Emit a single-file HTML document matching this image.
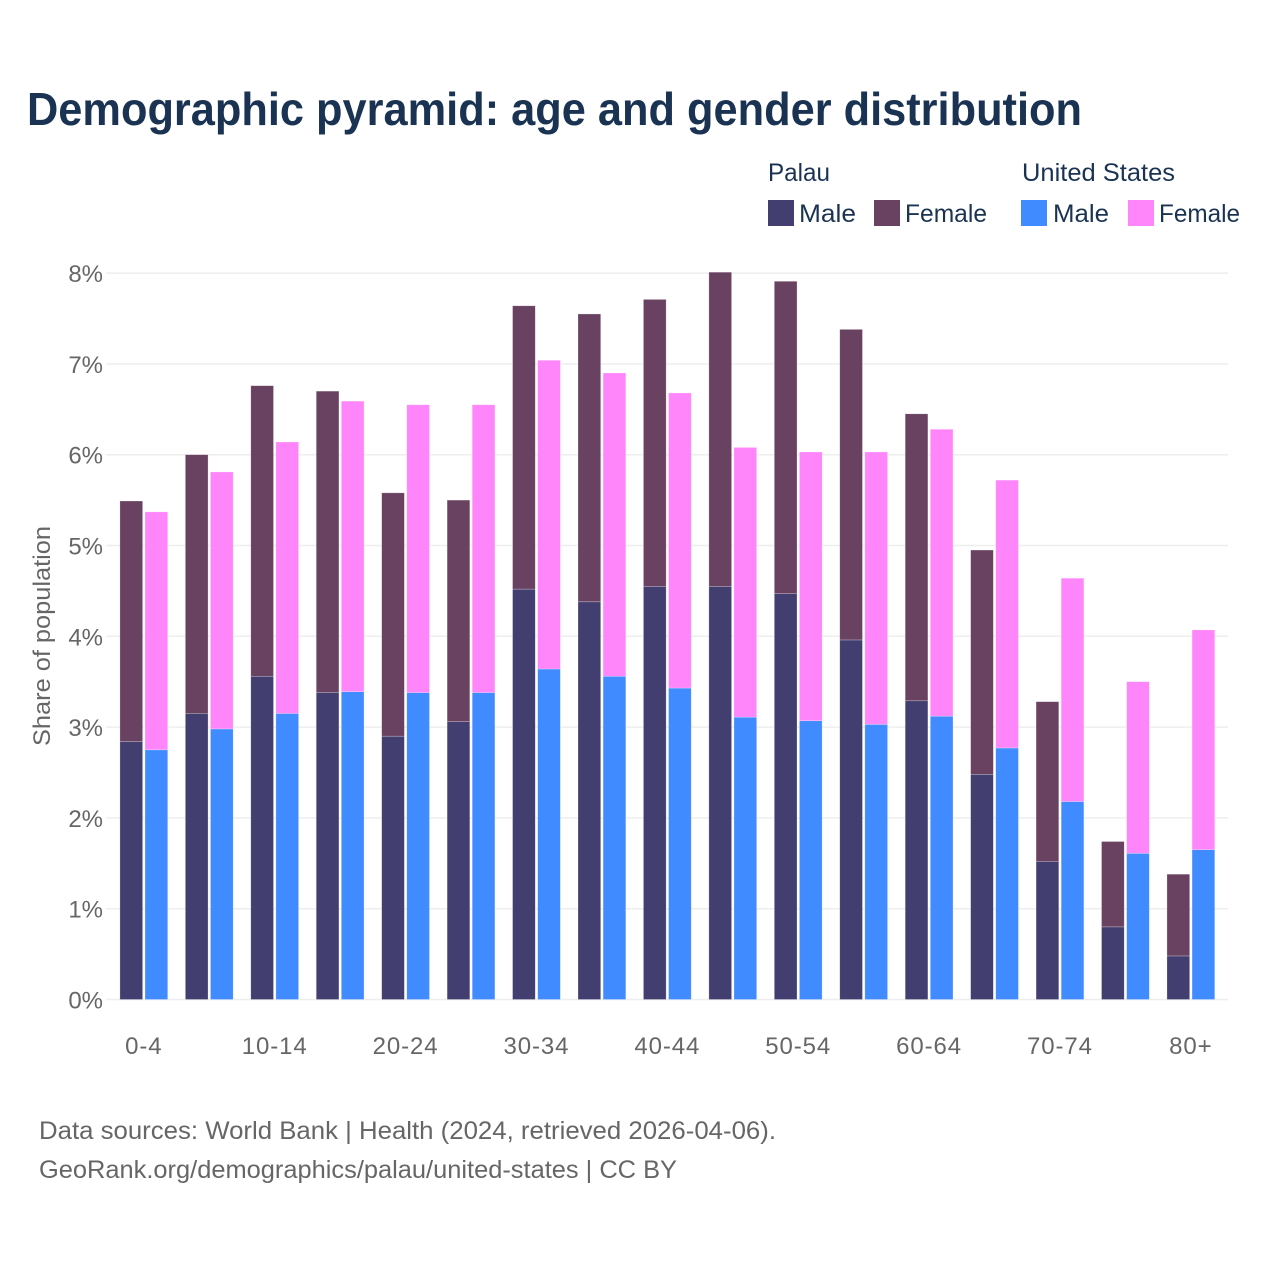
<!DOCTYPE html>
<html lang="en">
<head>
<meta charset="utf-8">
<title>Demographic pyramid: age and gender distribution</title>
<style>
html,body{margin:0;padding:0;background:#fff;}
svg{display:block;font-family:"Liberation Sans",sans-serif;}
</style>
</head>
<body>
<svg id="chart" width="1280" height="1280" viewBox="0 0 1280 1280" xmlns="http://www.w3.org/2000/svg">
  <rect x="0" y="0" width="1280" height="1280" fill="#ffffff"/>
  <text x="27" y="125" font-size="46" font-weight="700" fill="#1a3353" textLength="1055" lengthAdjust="spacingAndGlyphs">Demographic pyramid: age and gender distribution</text>

  <g font-size="25" fill="#1a3353">
    <text x="768" y="181" textLength="62" lengthAdjust="spacingAndGlyphs">Palau</text>
    <text x="1022" y="181" textLength="153" lengthAdjust="spacingAndGlyphs">United States</text>
    <g>
      <rect x="768" y="200" width="26" height="26" fill="#423f70"/>
      <text x="799" y="222" textLength="57" lengthAdjust="spacingAndGlyphs">Male</text>
    </g>
    <g>
      <rect x="874" y="200" width="26" height="26" fill="#694262"/>
      <text x="905" y="222" textLength="82" lengthAdjust="spacingAndGlyphs">Female</text>
    </g>
    <g>
      <rect x="1021" y="200" width="26" height="26" fill="#408bff"/>
      <text x="1053" y="222" textLength="56" lengthAdjust="spacingAndGlyphs">Male</text>
    </g>
    <g>
      <rect x="1128" y="200" width="26" height="26" fill="#ff85fb"/>
      <text x="1159" y="222" textLength="81" lengthAdjust="spacingAndGlyphs">Female</text>
    </g>
  </g>

  <g id="grid"></g>
  <g id="bars"></g>
  <g id="yticks"></g>
  <g id="xticks"></g>

  <text transform="translate(50,636) rotate(-90)" text-anchor="middle" font-size="24" fill="#666666" textLength="220" lengthAdjust="spacingAndGlyphs">Share of population</text>

  <text x="39" y="1139" font-size="25" fill="#666666" textLength="737" lengthAdjust="spacingAndGlyphs">Data sources: World Bank | Health (2024, retrieved 2026-04-06).</text>
  <text x="39" y="1178" font-size="25" fill="#666666" textLength="638" lengthAdjust="spacingAndGlyphs">GeoRank.org/demographics/palau/united-states | CC BY</text>
</svg>
<script>
const categories = ["0-4","5-9","10-14","15-19","20-24","25-29","30-34","35-39","40-44","45-49","50-54","55-59","60-64","65-69","70-74","75-79","80+"];
const palauMale = [2.84,3.15,3.56,3.38,2.90,3.06,4.52,4.38,4.55,4.55,4.47,3.96,3.29,2.48,1.52,0.80,0.48];
const palauFemale = [2.65,2.85,3.20,3.32,2.68,2.44,3.12,3.17,3.16,3.46,3.44,3.42,3.16,2.47,1.76,0.94,0.90];
const usMale = [2.75,2.98,3.15,3.39,3.38,3.38,3.64,3.56,3.43,3.11,3.07,3.03,3.12,2.77,2.18,1.61,1.65];
const usFemale = [2.62,2.83,2.99,3.20,3.17,3.17,3.40,3.34,3.25,2.97,2.96,3.00,3.16,2.95,2.46,1.89,2.42];
const yTickValues = [0,1,2,3,4,5,6,7,8];

const NS = "http://www.w3.org/2000/svg";
const plotLeft = 111, bandStep = 65.44, barWidth = 22.7, barGap = 2.4;
const gridLeft = 106, gridRight = 1228;
const yZero = 999.5, pxPerUnit = 90.8;

function yScale(v) { return yZero - v * pxPerUnit; }
function xCenter(i) { return plotLeft + bandStep * (i + 0.5) + 0.1; }

function make(tag, attrs, parent) {
  const el = document.createElementNS(NS, tag);
  for (const k in attrs) el.setAttribute(k, attrs[k]);
  parent.appendChild(el);
  return el;
}

const gridG = document.getElementById("grid");
const yG = document.getElementById("yticks");
yTickValues.forEach(function (t) {
  const line = make("line", { x1: gridLeft, x2: gridRight, y1: yScale(t), y2: yScale(t), stroke: "#eeeeee", "stroke-width": 1.5 }, gridG);
  
  
  const label = make("text", { x: 103, y: yScale(t) + 9, "text-anchor": "end", "font-size": 24, fill: "#666666" }, yG);
  label.textContent = t + "%";
  
  
});

const xG = document.getElementById("xticks");
categories.forEach(function (c, i) {
  if (i % 2 !== 0) return;
  const label = make("text", { x: xCenter(i), y: 1054, "text-anchor": "middle", "font-size": 24, "letter-spacing": 0.9, fill: "#666666" }, xG);
  label.textContent = c;
  
  
});

const barsG = document.getElementById("bars");
function drawStack(i, x, lower, upper, lowerColor, upperColor, country) {
  const lowerTop = yScale(lower);
  const upperTop = yScale(lower + upper);
  const a = make("rect", { x: x, y: lowerTop, width: barWidth, height: yZero - lowerTop, fill: lowerColor, stroke: "#ffffff", "stroke-opacity": 0.4, "stroke-width": 0.6 }, barsG);
  
  
  a.setAttribute('data-country', country);
  const b = make("rect", { x: x, y: upperTop, width: barWidth, height: lowerTop - upperTop, fill: upperColor, stroke: "#ffffff", "stroke-opacity": 0.4, "stroke-width": 0.6 }, barsG);
  
  
  b.setAttribute('data-country', country);
}
categories.forEach(function (c, i) {
  const cx = xCenter(i);
  drawStack(i, cx - barGap / 2 - barWidth, palauMale[i], palauFemale[i], "#423f70", "#694262", "palau");
  drawStack(i, cx + barGap / 2, usMale[i], usFemale[i], "#408bff", "#ff85fb", "united-states");
});
</script>
</body>
</html>
